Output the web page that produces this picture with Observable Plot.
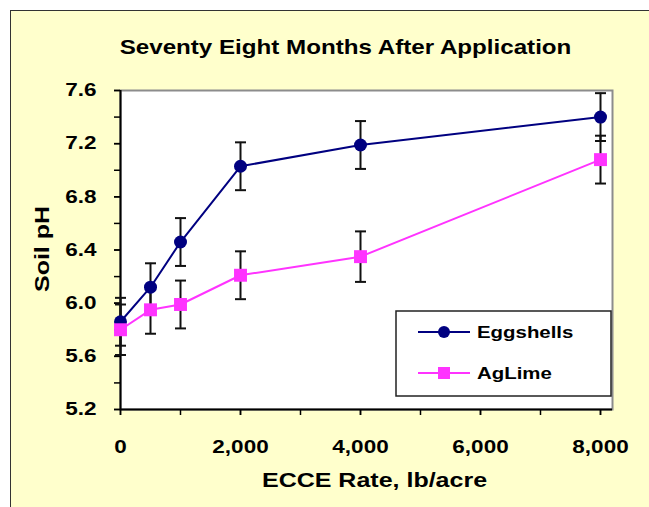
<!DOCTYPE html>
<html><head><meta charset="utf-8">
<script src="https://cdn.jsdelivr.net/npm/d3@7"></script>
<script src="https://cdn.jsdelivr.net/npm/@observablehq/plot@0.6"></script>
<style>
html,body{margin:0;padding:0;background:#fff;}
#wrap{position:relative;width:649px;height:507px;overflow:hidden;}
#panel{position:absolute;left:10px;top:10px;width:700px;height:600px;background:#FFFFCC;border:1.5px solid #333;box-sizing:border-box;}
#chart{position:absolute;left:0;top:0;}
#legend{position:absolute;left:395px;top:310px;}
</style></head><body>
<div id="wrap"><div id="panel"></div><div id="chart"></div><div id="legend"></div></div>
<script>
// ---- data ----
const rates = [0, 500, 1000, 2000, 4000, 8000];
const eggshells = [5.86, 6.12, 6.46, 7.03, 7.19, 7.40];
const eggshellsErr = [0.18, 0.18, 0.18, 0.18, 0.18, 0.18];
const aglime = [5.80, 5.95, 5.99, 6.21, 6.35, 7.08];
const aglimeErr = [0.19, 0.18, 0.18, 0.18, 0.19, 0.18];
const seriesNames = ["Eggshells", "AgLime"];
const seriesColors = ["#000080", "#FF33FF"];
const xTicks = [0, 2000, 4000, 6000, 8000];
const xMinorTicks = [0, 1000, 2000, 3000, 4000, 5000, 6000, 7000, 8000];
const yTicks = [5.2, 5.6, 6.0, 6.4, 6.8, 7.2, 7.6];
const yMinorTicks = [5.2, 5.4, 5.6, 5.8, 6.0, 6.2, 6.4, 6.6, 6.8, 7.0, 7.2, 7.4, 7.6];
const titleText = "Seventy Eight Months After Application";
const xLabel = "ECCE Rate, lb/acre";
const yLabel = "Soil pH";

const egg = rates.map((r, i) => ({rate: r, v: eggshells[i], lo: eggshells[i] - eggshellsErr[i], hi: eggshells[i] + eggshellsErr[i]}));
const agl = rates.map((r, i) => ({rate: r, v: aglime[i], lo: aglime[i] - aglimeErr[i], hi: aglime[i] + aglimeErr[i]}));
const all = egg.concat(agl);

const font = "'Liberation Sans', Arial, sans-serif";
const capSymbol = {draw(ctx) { ctx.moveTo(-5.5, 0); ctx.lineTo(5.5, 0); }};

const chart = Plot.plot({
  width: 649, height: 507,
  marginLeft: 120, marginRight: 37, marginTop: 90, marginBottom: 98,
  style: {background: "transparent", overflow: "visible", fontFamily: font},
  x: {domain: [0, 8200]},
  y: {domain: [5.2, 7.6]},
  marks: [
    Plot.frame({fill: "white", stroke: "#8c8c8c", strokeWidth: 2}),
    Plot.axisY({ticks: yMinorTicks, tickFormat: () => "", tickSize: 6, stroke: "black", strokeWidth: 1.5, label: null}),
    Plot.axisY({ticks: yTicks, tickFormat: d => d.toFixed(1), tickSize: 6, tickPadding: 18, stroke: "black", strokeWidth: 1.5, fill: "black", fontSize: 18, fontWeight: "bold", label: null}),
    Plot.axisX({ticks: xMinorTicks, tickFormat: () => "", tickSize: 6, stroke: "black", strokeWidth: 1.5, label: null}),
    Plot.axisX({ticks: xTicks, tickFormat: d3.format(","), tickSize: 6, tickPadding: 25, stroke: "black", strokeWidth: 1.5, fill: "black", fontSize: 18, fontWeight: "bold", label: null}),
    Plot.ruleX([0], {stroke: "black", strokeWidth: 2}),
    Plot.ruleY([5.2], {stroke: "black", strokeWidth: 2}),
    Plot.ruleX(all, {x: "rate", y1: "lo", y2: "hi", stroke: "#111", strokeWidth: 2}),
    Plot.dot(all, {x: "rate", y: "lo", symbol: capSymbol, fill: "none", stroke: "#111", strokeWidth: 2}),
    Plot.dot(all, {x: "rate", y: "hi", symbol: capSymbol, fill: "none", stroke: "#111", strokeWidth: 2}),
    Plot.line(egg, {x: "rate", y: "v", stroke: seriesColors[0], strokeWidth: 2}),
    Plot.line(agl, {x: "rate", y: "v", stroke: seriesColors[1], strokeWidth: 2}),
    Plot.dot(egg, {x: "rate", y: "v", symbol: "circle", r: 6.5, fill: seriesColors[0], stroke: "none"}),
    Plot.dot(agl, {x: "rate", y: "v", symbol: "square", r: 7.3, fill: seriesColors[1], stroke: "none"}),
    Plot.text([titleText], {frameAnchor: "top", lineAnchor: "middle", textAnchor: "middle", dy: -43, dx: -21, fontSize: 21, fontWeight: "bold", fill: "black"}),
    Plot.text([xLabel], {frameAnchor: "bottom", lineAnchor: "middle", textAnchor: "middle", dy: 71, dx: 8, fontSize: 20, fontWeight: "bold", fill: "black"}),
    Plot.text([yLabel], {frameAnchor: "left", lineAnchor: "middle", textAnchor: "middle", dx: -78, dy: -1, rotate: -90, fontSize: 20, fontWeight: "bold", fill: "black"})
  ]
});
document.getElementById("chart").appendChild(chart);

// ---- legend ----
const lg = d3.select("#legend").append("svg").attr("width", 218).attr("height", 88).style("display", "block");
lg.append("rect").attr("x", 1).attr("y", 1).attr("width", 215).attr("height", 85).attr("fill", "white").attr("stroke", "#222").attr("stroke-width", 1.5);
seriesNames.forEach((name, i) => {
  const y = 22 + i * 41;
  const g = lg.append("g").attr("transform", `translate(0,${y})`);
  g.append("line").attr("x1", 23).attr("x2", 75).attr("y1", 0).attr("y2", 0).attr("stroke", seriesColors[i]).attr("stroke-width", 2);
  if (i === 0) g.append("circle").attr("cx", 49).attr("cy", 0).attr("r", 6).attr("fill", seriesColors[i]);
  else g.append("rect").attr("x", 43).attr("y", -6).attr("width", 12).attr("height", 12).attr("fill", seriesColors[i]);
  g.append("text").attr("x", 82).attr("y", 0).attr("dy", "0.35em").attr("font-family", font).attr("font-weight", "bold").attr("font-size", 17).attr("fill", "black").text(name);
});

// ---- widen glyphs horizontally to match the reference's stretched lettering ----
function stretch(root, factorFor) {
  root.querySelectorAll("text").forEach(t => {
    if (!t.textContent) return;
    const w = t.getComputedTextLength();
    if (!w) return;
    t.setAttribute("textLength", (w * factorFor(t.textContent)).toFixed(1));
    t.setAttribute("lengthAdjust", "spacingAndGlyphs");
  });
}
stretch(chart, s => s === titleText ? 1.15 : 1.25);
stretch(document.getElementById("legend"), () => 1.2);
</script>
</body></html>
